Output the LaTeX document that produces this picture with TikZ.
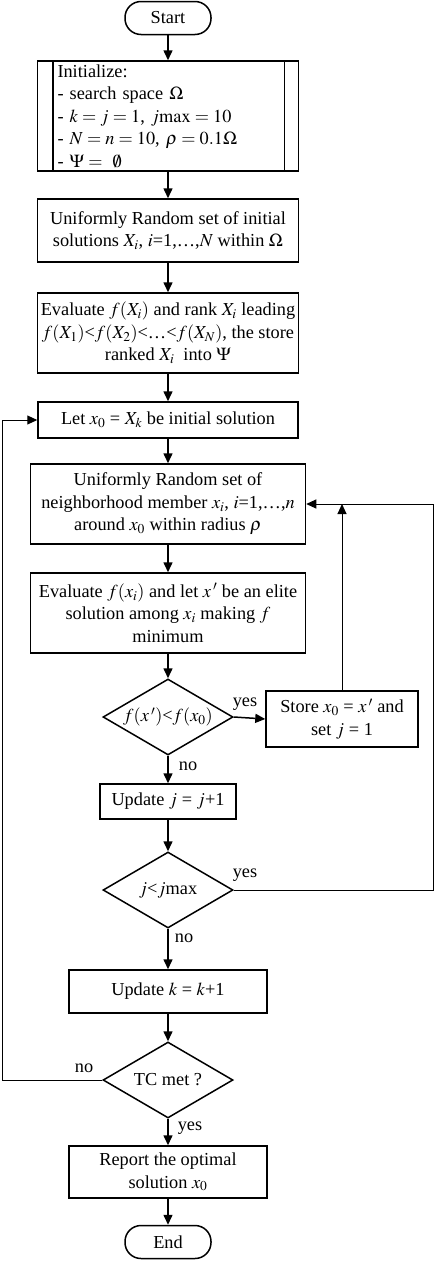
\documentclass[tikz,border=0pt]{standalone}
\usepackage{mathptmx}
\usepackage[no-math]{fontspec}
\setmainfont{Liberation Serif}
\usetikzlibrary{arrows.meta,shapes.geometric}

\begin{document}
\begin{tikzpicture}[x=1pt,y=-1pt,
    font=\fontsize{18.3}{22.5}\selectfont,
    line width=1.5pt,
    proc/.style={draw,rectangle,align=center,inner sep=0pt},
    term/.style={draw,rectangle,rounded corners=16pt,minimum width=86pt,minimum height=33pt},
    dec/.style={draw,diamond,shape aspect=1.7,inner sep=0pt,minimum width=130pt,minimum height=76pt},
    flow/.style={-{Triangle[length=10pt,width=9pt]}},
    back/.style={line width=1pt},
    lbl/.style={inner sep=0pt}]
        \useasboundingbox (0,0) rectangle (435,1261);
        \node[term] (start) at (168,18) {Start};
        \node[proc,align=left,text width=221pt,inner xsep=20pt,minimum height=110pt] (init) at (168,116)
          {Initialize:\\- search space $\Omega$\\- $k = j = 1$, $j\mathrm{max} = 10$\\- $N = n = 10$, $\rho = 0.1\Omega$\\- $\Psi =\ \emptyset$};
        \draw ([xshift=16pt]init.north west) -- ([xshift=16pt]init.south west);
        \draw ([xshift=-15pt]init.north east) -- ([xshift=-15pt]init.south east);
        \node[proc,minimum width=261pt,minimum height=63pt] (rand) at (168,230.5)
          {Uniformly Random set of initial\\solutions $X_i$, $i$=1,\ldots,$N$ within $\Omega$};
        \node[proc,minimum width=261pt,minimum height=80pt] (rank) at (168,333)
          {Evaluate $f(X_i)$ and rank $X_i$ leading\\$f(X_1)$<$f(X_2)$<\ldots<$f(X_N)$, the store\\ranked $X_i$\ \ into $\Psi$};
        \node[proc,minimum width=260pt,minimum height=36pt] (let) at (168,420)
          {Let $x_0$ = $X_k$ be initial solution};
        \node[proc,minimum width=275pt,minimum height=80pt] (nbr) at (168,504)
          {Uniformly Random set of\\neighborhood member $x_i$, $i$=1,\ldots,$n$\\around $x_0$ within radius $\rho$};
        \node[proc,minimum width=275pt,minimum height=80pt] (elite) at (168,613)
          {Evaluate $f(x_i)$ and let $x\,'$ be an elite\\solution among $x_i$ making $f$\\minimum};
        \node[dec] (better) at (168,717) {$f(x\,')$<$f(x_0)$};
        \node[proc,minimum width=152pt,minimum height=56pt] (store) at (342,719)
          {Store $x_0$ = $x\,'$ and\\set $j$ = 1};
        \node[proc,minimum width=136pt,minimum height=35pt] (updj) at (168,801.5) {Update $j$ = $j$+1};
        \node[dec] (jmax) at (168,890) {$j$<$j$max};
        \node[proc,minimum width=198pt,minimum height=43pt] (updk) at (168,991.5) {Update $k$ = $k$+1};
        \node[dec] (tc) at (168,1080) {TC met ?};
        \node[proc,minimum width=198pt,minimum height=52pt] (report) at (168,1172)
          {Report the optimal\\solution $x_0$};
        \node[term] (end) at (168,1242) {End};
        \coordinate (rloop) at (433,504);
        \coordinate (lloop) at (2,420);
        \draw[flow] (start) -- (init);
        \draw[flow] (init) -- (rand);
        \draw[flow] (rand) -- (rank);
        \draw[flow] (rank) -- (let);
        \draw[flow] (let) -- (nbr);
        \draw[flow] (nbr) -- (elite);
        \draw[flow] (elite) -- (better);
        \draw[flow] (better.east) -- (store.west);
        \draw[flow] (better.south) -- (updj);
        \draw[flow] (updj) -- (jmax.north);
        \draw[flow] (jmax.south) -- (updk);
        \draw[flow] (updk) -- (tc.north);
        \draw[flow] (tc.south) -- (report);
        \draw[flow] (report) -- (end);
        \draw[flow,back] (store.north) -- (store.north |- nbr.east);
        \draw[flow,back] (jmax.east) -| (rloop) -- (nbr.east);
        \draw[flow,back] (tc.west) -| (lloop) -- (let.west);
        \node[lbl] (yes1) at (245,704) {yes};
        \node[lbl] (no1) at (188,766) {no};
        \node[lbl] (yes2) at (245,875) {yes};
        \node[lbl] (no2) at (184,938) {no};
        \node[lbl] (no3) at (84,1068) {no};
        \node[lbl] (yes3) at (190,1128) {yes};
      \end{tikzpicture}
\end{document}
